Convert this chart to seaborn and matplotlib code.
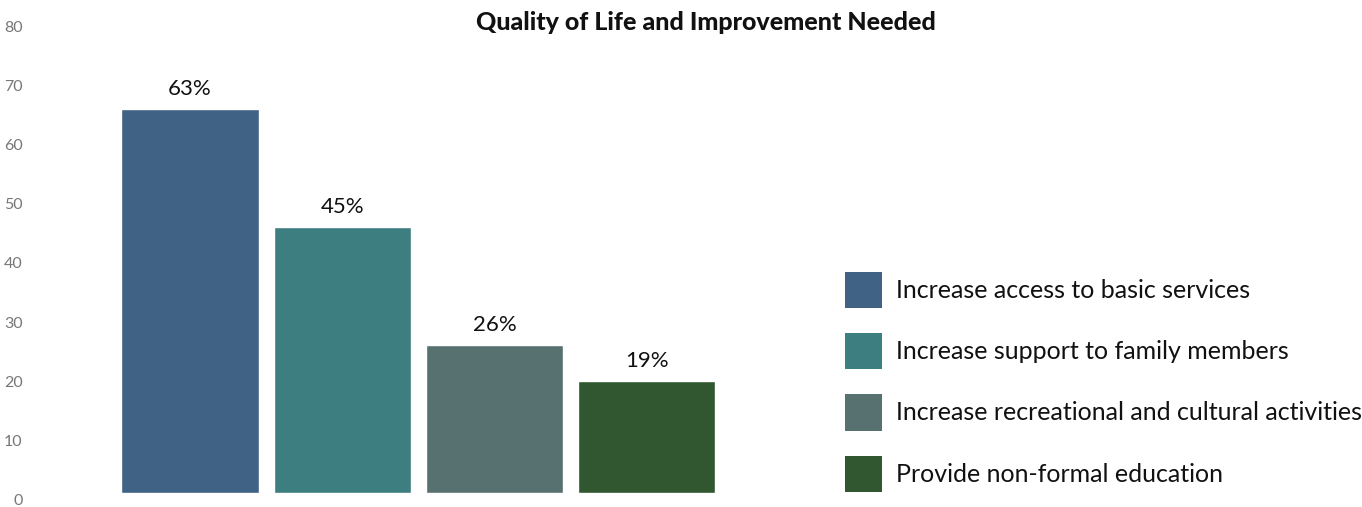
import matplotlib
matplotlib.use("Agg")
import matplotlib.pyplot as plt
from matplotlib.patches import Patch
from matplotlib.transforms import ScaledTranslation
import seaborn as sns
import pandas as pd

categories = [
    "Increase access to basic services",
    "Increase support to family members",
    "Increase recreational and cultural activities",
    "Provide non-formal education",
]
values = [65, 45, 25, 19]
value_labels = ["63%", "45%", "26%", "19%"]
colors = ["#406285", "#3d7e81", "#56716f", "#30572f"]
yticks = [0, 10, 20, 30, 40, 50, 60, 70, 80]
title = "Quality of Life and Improvement Needed"

sns.set_style("white")
plt.rcParams["font.family"] = ["Lato", "DejaVu Sans"]

W, H = 1362, 507
dpi = 100
fig = plt.figure(figsize=(W / dpi, H / dpi), dpi=dpi)
left, right, top, bottom = 35, 800, 20, 493
ax = fig.add_axes([left / W, (H - bottom) / H, (right - left) / W, (bottom - top) / H])

df = pd.DataFrame({"category": categories, "value": values})
sns.barplot(data=df, x="category", y="value", hue="category", palette=colors,
            width=0.9, saturation=1, legend=False, ax=ax, order=categories,
            hue_order=categories)

pitch = 152.3
ax.set_xlim(-(190 - left) / pitch, (right - 190) / pitch)
ax.set_ylim(0, 80)
ax.set_yticks(yticks)
ax.set_yticklabels([str(t) for t in yticks], fontsize=11.5, color="#777777")
ax.tick_params(axis="y", length=0, pad=9)
off = ScaledTranslation(0, -6.5 / dpi, fig.dpi_scale_trans)
for lab in ax.get_yticklabels():
    lab.set_transform(lab.get_transform() + off)
ax.set_xticks([])
ax.set_xlabel("")
ax.set_ylabel("")
for s in ax.spines.values():
    s.set_visible(False)

for cont, lab in zip(ax.containers, value_labels):
    ax.bar_label(cont, labels=[lab], padding=7, fontsize=16, color="#111111")

handles = [Patch(facecolor=c, edgecolor="none") for c in colors]
fs = 18
fspx = fs * dpi / 72
fig.legend(handles=handles, labels=categories, loc="upper left",
           bbox_to_anchor=(845 / W, 1 - 272 / H), frameon=False,
           prop={"size": fs}, labelcolor="#111111",
           handlelength=37 / fspx, handleheight=37 / (0.8 * fspx),
           handletextpad=0.55, labelspacing=1.0, borderpad=0, borderaxespad=0)

fig.text(706 / W, 1 - 22 / H, title, ha="center", va="center",
         fontsize=18, fontweight="black", color="#111111")

fig.savefig("out.png", dpi=dpi)
